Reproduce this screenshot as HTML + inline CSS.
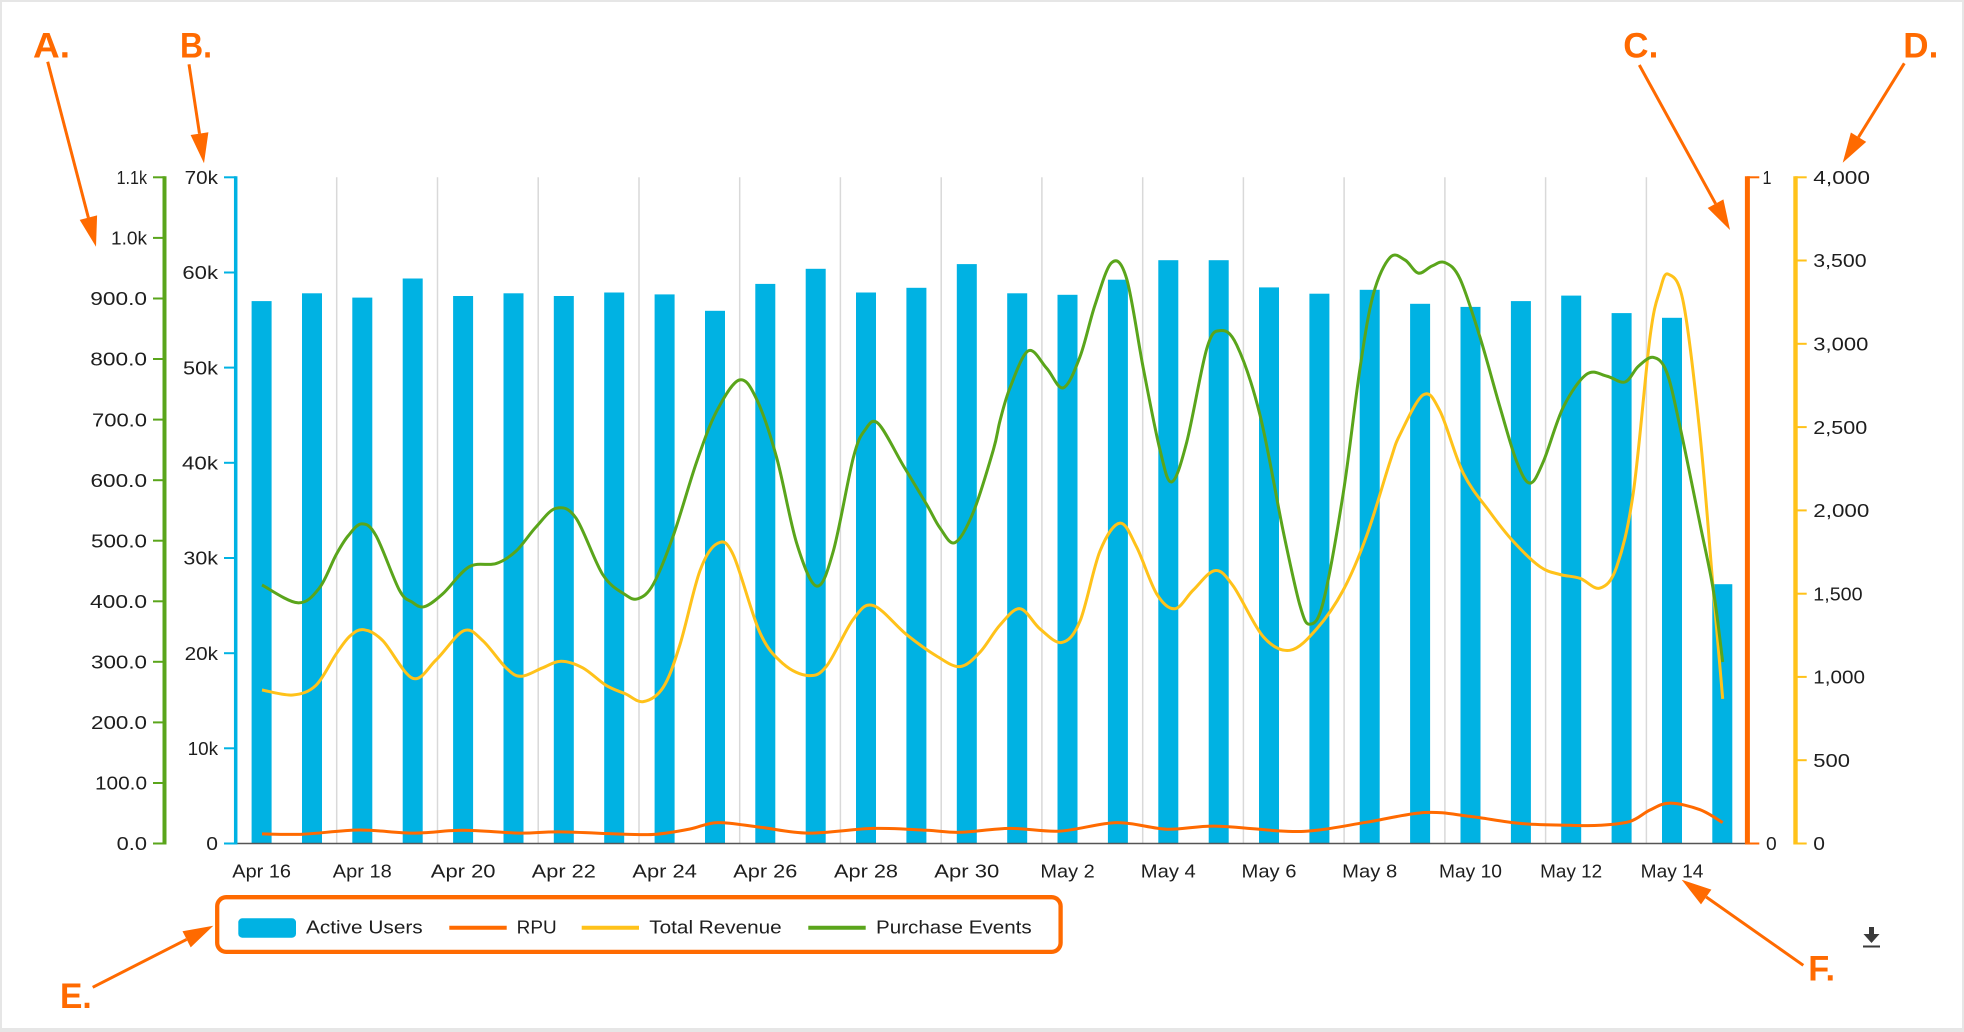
<!DOCTYPE html>
<html>
<head>
<meta charset="utf-8">
<style>
  html,body{margin:0;padding:0;background:#fff;}
  svg{display:block;}
  .t{font-family:"Liberation Sans",sans-serif;font-size:18.5px;fill:#1e1e1e;}
  .ann{font-family:"Liberation Sans",sans-serif;font-size:35px;font-weight:bold;fill:#ff6a00;}
</style>
</head>
<body>
<svg id="chart" width="1964" height="1032" viewBox="0 0 1964 1032" xmlns="http://www.w3.org/2000/svg">
  <!-- frame -->
  <rect x="0" y="0" width="1964" height="1032" fill="#e6e6e6"/>
  <rect x="2" y="2" width="1960" height="1026" fill="#ffffff"/>

  <!-- gridlines -->
  <g stroke="#d9d9d9" stroke-width="1.5">
    <line x1="336.7" y1="177.3" x2="336.7" y2="843.5"/>
    <line x1="437.5" y1="177.3" x2="437.5" y2="843.5"/>
    <line x1="538.2" y1="177.3" x2="538.2" y2="843.5"/>
    <line x1="639.0" y1="177.3" x2="639.0" y2="843.5"/>
    <line x1="739.7" y1="177.3" x2="739.7" y2="843.5"/>
    <line x1="840.4" y1="177.3" x2="840.4" y2="843.5"/>
    <line x1="941.2" y1="177.3" x2="941.2" y2="843.5"/>
    <line x1="1041.9" y1="177.3" x2="1041.9" y2="843.5"/>
    <line x1="1142.7" y1="177.3" x2="1142.7" y2="843.5"/>
    <line x1="1243.4" y1="177.3" x2="1243.4" y2="843.5"/>
    <line x1="1344.1" y1="177.3" x2="1344.1" y2="843.5"/>
    <line x1="1444.9" y1="177.3" x2="1444.9" y2="843.5"/>
    <line x1="1545.6" y1="177.3" x2="1545.6" y2="843.5"/>
    <line x1="1646.4" y1="177.3" x2="1646.4" y2="843.5"/>
  </g>

  <!-- bars -->
  <g fill="#00b2e3">
    <rect x="251.6" y="301.1" width="20" height="542.4"/>
    <rect x="302.0" y="293.3" width="20" height="550.2"/>
    <rect x="352.3" y="297.6" width="20" height="545.9"/>
    <rect x="402.7" y="278.5" width="20" height="565.0"/>
    <rect x="453.1" y="296.0" width="20" height="547.5"/>
    <rect x="503.5" y="293.3" width="20" height="550.2"/>
    <rect x="553.8" y="296.0" width="20" height="547.5"/>
    <rect x="604.2" y="292.5" width="20" height="551.0"/>
    <rect x="654.6" y="294.4" width="20" height="549.1"/>
    <rect x="705.0" y="310.8" width="20" height="532.7"/>
    <rect x="755.3" y="283.9" width="20" height="559.6"/>
    <rect x="805.7" y="268.8" width="20" height="574.7"/>
    <rect x="856.0" y="292.5" width="20" height="551.0"/>
    <rect x="906.4" y="287.8" width="20" height="555.7"/>
    <rect x="956.8" y="264.1" width="20" height="579.4"/>
    <rect x="1007.2" y="293.3" width="20" height="550.2"/>
    <rect x="1057.5" y="294.8" width="20" height="548.7"/>
    <rect x="1107.9" y="279.7" width="20" height="563.8"/>
    <rect x="1158.3" y="260.2" width="20" height="583.3"/>
    <rect x="1208.7" y="260.2" width="20" height="583.3"/>
    <rect x="1259.0" y="287.4" width="20" height="556.1"/>
    <rect x="1309.4" y="293.7" width="20" height="549.8"/>
    <rect x="1359.7" y="289.8" width="20" height="553.7"/>
    <rect x="1410.1" y="303.8" width="20" height="539.7"/>
    <rect x="1460.5" y="306.9" width="20" height="536.6"/>
    <rect x="1510.9" y="301.1" width="20" height="542.4"/>
    <rect x="1561.2" y="295.6" width="20" height="547.9"/>
    <rect x="1611.6" y="313.1" width="20" height="530.4"/>
    <rect x="1662.0" y="317.8" width="20" height="525.7"/>
    <rect x="1712.3" y="584.2" width="20" height="259.3"/>
  </g>

  <!-- x axis -->
  <line x1="236" y1="843.5" x2="1746" y2="843.5" stroke="#555" stroke-width="1.6"/>

  <!-- series lines -->
  <polyline class="smooth" fill="none" stroke="#ff6a00" stroke-width="3" stroke-linejoin="round" stroke-linecap="butt"
    points="262,833.9 302.7,834.2 359.3,830.0 412.7,833.1 462.7,830.3 519.3,833.1 559.3,831.9 625.3,834.2 656.7,834.2 690,829 717.7,822.6 760,827.2 808.3,833.1 873.3,828.4 926.7,830.3 960,832.3 1010,828.4 1060,831.1 1116.7,822.6 1166.7,829.2 1215,826.1 1283.3,831.1 1316.7,830.3 1366.7,822.2 1425,812.5 1470,816.4 1520,823.4 1570,825.3 1600,825.3 1630,821.4 1650,810 1670,803.1 1700,809.7 1722.7,822.6"/>
  <polyline class="smooth" fill="none" stroke="#ffc21a" stroke-width="3" stroke-linejoin="round"
    points="262,690.0 292.7,695.0 316,685.3 336,654.2 350,636 363.7,629.7 382.7,640.6 412.7,678.3 436,660.0 463.7,630.8 482.7,640.6 506,667.8 521,676.3 542.7,667.8 561,661.2 582.7,667.8 606,685.3 625.3,693.8 643.3,701.6 663.3,687.2 680,644.5 700,570.6 717.7,543.3 733.3,555.0 760,632.8 783.3,663.9 808.3,675.6 826.7,665.9 853.3,619.2 873.3,605.6 906.7,634.7 936.7,656.1 960,666.6 980,652.2 1000,625.0 1020,608.7 1040,628.9 1061.7,642.5 1080,621.1 1100,551.1 1120,523.1 1136.7,547.2 1156.7,593.9 1175,608.7 1193.3,590.0 1215,570.6 1233.3,586.1 1263.3,636.7 1290,650.3 1316.7,628.9 1343.3,590.0 1366.7,535.6 1390,461.7 1400,434.5 1423.3,394.8 1440,411.1 1463.3,473.3 1490,512.2 1513.3,541.4 1540,566.7 1560,574.5 1580,578.3 1600,588.1 1616.7,566.7 1633.3,492.8 1650,337.2 1660,290 1668.3,274.2 1683.3,302.2 1700,434.5 1713.3,590.0 1722.7,698.9"/>
  <polyline class="smooth" fill="none" stroke="#5aa51b" stroke-width="3" stroke-linejoin="round"
    points="262,585.0 297.7,602.8 319.3,588.1 336,555.0 348,536 361.7,523.9 376,535.6 399.3,590.0 412,602 424.3,606.7 442.7,593.9 469.3,566.7 496,563.6 516,551.1 536,527 556,508.3 576,518.1 602.7,574.5 625.3,594.7 638.3,598.6 653.3,584.2 673.3,535.6 696.7,461.7 716.7,411.1 739.3,380.0 756.7,399.4 776.7,457.8 796.7,543.3 816.7,586.1 833.3,551.1 853.3,457.8 865,430 878.3,423.6 903.3,465.6 926.7,504.5 940,528 955,542.6 973.3,512.2 993.3,450.0 1000,420.8 1010,387.8 1028.3,350.8 1046.7,368.3 1063.3,387.8 1080,356.7 1095,305 1111.7,262.6 1126.7,278.9 1143.3,368.3 1160,450.0 1171.7,481.9 1186.7,442.2 1206.7,348.9 1220,330.6 1236.7,345.0 1260,415.0 1283.3,531.7 1300,605.6 1310,624.2 1323.3,601.7 1343.3,492.8 1360,368.3 1373.3,294.4 1390,257.5 1405,260 1418.3,273.1 1432,266 1445,262.6 1460,278.9 1480,337.2 1500,407.2 1516.7,461.7 1530,483.1 1543.3,461.7 1563.3,407.2 1586.7,374.2 1606.7,376.1 1625,382.0 1638.3,366.4 1653.3,357.4 1666.7,372.2 1680,426.7 1700,523.9 1713.3,590.0 1722.7,662.0"/>

  <!-- green axis (left-most) -->
  <line x1="164.5" y1="176.3" x2="164.5" y2="844.5" stroke="#5aa51b" stroke-width="4"/>
  <g stroke="#5aa51b" stroke-width="2">
    <line x1="153" y1="177.3" x2="165" y2="177.3"/>
    <line x1="153" y1="237.9" x2="165" y2="237.9"/>
    <line x1="153" y1="298.5" x2="165" y2="298.5"/>
    <line x1="153" y1="359.0" x2="165" y2="359.0"/>
    <line x1="153" y1="419.6" x2="165" y2="419.6"/>
    <line x1="153" y1="480.2" x2="165" y2="480.2"/>
    <line x1="153" y1="540.7" x2="165" y2="540.7"/>
    <line x1="153" y1="601.3" x2="165" y2="601.3"/>
    <line x1="153" y1="661.8" x2="165" y2="661.8"/>
    <line x1="153" y1="722.4" x2="165" y2="722.4"/>
    <line x1="153" y1="783.0" x2="165" y2="783.0"/>
    <line x1="153" y1="843.5" x2="165" y2="843.5"/>
  </g>
  <g class="t">
    <text x="116.6" y="184.0" textLength="30.4" lengthAdjust="spacingAndGlyphs">1.1k</text>
    <text x="111.0" y="244.6" textLength="36" lengthAdjust="spacingAndGlyphs">1.0k</text>
    <text x="90.3" y="305.2" textLength="56.7" lengthAdjust="spacingAndGlyphs">900.0</text>
    <text x="90.3" y="365.7" textLength="56.7" lengthAdjust="spacingAndGlyphs">800.0</text>
    <text x="92.0" y="426.3" textLength="55" lengthAdjust="spacingAndGlyphs">700.0</text>
    <text x="90.5" y="486.9" textLength="56.5" lengthAdjust="spacingAndGlyphs">600.0</text>
    <text x="91.0" y="547.4" textLength="56" lengthAdjust="spacingAndGlyphs">500.0</text>
    <text x="90.0" y="608.0" textLength="57" lengthAdjust="spacingAndGlyphs">400.0</text>
    <text x="91.0" y="668.5" textLength="56" lengthAdjust="spacingAndGlyphs">300.0</text>
    <text x="91.0" y="729.1" textLength="56" lengthAdjust="spacingAndGlyphs">200.0</text>
    <text x="95.0" y="789.7" textLength="52" lengthAdjust="spacingAndGlyphs">100.0</text>
    <text x="116.7" y="850.2" textLength="30.3" lengthAdjust="spacingAndGlyphs">0.0</text>
  </g>

  <!-- blue axis -->
  <line x1="235.7" y1="176.3" x2="235.7" y2="844.5" stroke="#00b2e3" stroke-width="3.5"/>
  <g stroke="#00b2e3" stroke-width="2">
    <line x1="224" y1="177.3" x2="236" y2="177.3"/>
    <line x1="224" y1="272.5" x2="236" y2="272.5"/>
    <line x1="224" y1="367.6" x2="236" y2="367.6"/>
    <line x1="224" y1="462.8" x2="236" y2="462.8"/>
    <line x1="224" y1="558.0" x2="236" y2="558.0"/>
    <line x1="224" y1="653.2" x2="236" y2="653.2"/>
    <line x1="224" y1="748.3" x2="236" y2="748.3"/>
    <line x1="224" y1="843.5" x2="236" y2="843.5"/>
  </g>
  <g class="t">
    <text x="184.7" y="184.0" textLength="33.3" lengthAdjust="spacingAndGlyphs">70k</text>
    <text x="182.4" y="279.2" textLength="35.6" lengthAdjust="spacingAndGlyphs">60k</text>
    <text x="183.0" y="374.3" textLength="35" lengthAdjust="spacingAndGlyphs">50k</text>
    <text x="182.0" y="469.5" textLength="36" lengthAdjust="spacingAndGlyphs">40k</text>
    <text x="183.4" y="564.7" textLength="34.6" lengthAdjust="spacingAndGlyphs">30k</text>
    <text x="184.6" y="659.9" textLength="33.4" lengthAdjust="spacingAndGlyphs">20k</text>
    <text x="187.6" y="755.0" textLength="30.4" lengthAdjust="spacingAndGlyphs">10k</text>
    <text x="206.3" y="850.2" textLength="11.7" lengthAdjust="spacingAndGlyphs">0</text>
  </g>

  <!-- orange axis (RPU) -->
  <line x1="1747.4" y1="176.3" x2="1747.4" y2="844.5" stroke="#ff6a00" stroke-width="5"/>
  <g stroke="#ff6a00" stroke-width="2">
    <line x1="1747" y1="177.3" x2="1759.3" y2="177.3"/>
    <line x1="1747" y1="843.5" x2="1759.3" y2="843.5"/>
  </g>
  <g class="t">
    <text x="1762.5" y="184.0" textLength="9" lengthAdjust="spacingAndGlyphs">1</text>
    <text x="1766" y="850.2" textLength="10.7" lengthAdjust="spacingAndGlyphs">0</text>
  </g>

  <!-- yellow axis (Total Revenue) -->
  <line x1="1795.5" y1="176.3" x2="1795.5" y2="844.5" stroke="#ffc21a" stroke-width="4.4"/>
  <g stroke="#ffc21a" stroke-width="2">
    <line x1="1795" y1="177.3" x2="1806.7" y2="177.3"/>
    <line x1="1795" y1="260.5" x2="1806.7" y2="260.5"/>
    <line x1="1795" y1="343.8" x2="1806.7" y2="343.8"/>
    <line x1="1795" y1="427.1" x2="1806.7" y2="427.1"/>
    <line x1="1795" y1="510.4" x2="1806.7" y2="510.4"/>
    <line x1="1795" y1="593.7" x2="1806.7" y2="593.7"/>
    <line x1="1795" y1="676.9" x2="1806.7" y2="676.9"/>
    <line x1="1795" y1="760.2" x2="1806.7" y2="760.2"/>
    <line x1="1795" y1="843.5" x2="1806.7" y2="843.5"/>
  </g>
  <g class="t">
    <text x="1813.3" y="184.0" textLength="56.7" lengthAdjust="spacingAndGlyphs">4,000</text>
    <text x="1813.3" y="267.2" textLength="53.3" lengthAdjust="spacingAndGlyphs">3,500</text>
    <text x="1813.3" y="350.5" textLength="55" lengthAdjust="spacingAndGlyphs">3,000</text>
    <text x="1813.3" y="433.8" textLength="54" lengthAdjust="spacingAndGlyphs">2,500</text>
    <text x="1813.3" y="517.1" textLength="56" lengthAdjust="spacingAndGlyphs">2,000</text>
    <text x="1813.3" y="600.4" textLength="49.3" lengthAdjust="spacingAndGlyphs">1,500</text>
    <text x="1813.3" y="683.6" textLength="51.7" lengthAdjust="spacingAndGlyphs">1,000</text>
    <text x="1813.3" y="766.9" textLength="36.7" lengthAdjust="spacingAndGlyphs">500</text>
    <text x="1813.3" y="850.2" textLength="11.7" lengthAdjust="spacingAndGlyphs">0</text>
  </g>

  <!-- x labels -->
  <g class="t">
    <text x="232.3" y="877.3" textLength="58.7" lengthAdjust="spacingAndGlyphs">Apr 16</text>
    <text x="332.8" y="877.3" textLength="59" lengthAdjust="spacingAndGlyphs">Apr 18</text>
    <text x="430.8" y="877.3" textLength="64.7" lengthAdjust="spacingAndGlyphs">Apr 20</text>
    <text x="531.8" y="877.3" textLength="64" lengthAdjust="spacingAndGlyphs">Apr 22</text>
    <text x="632.4" y="877.3" textLength="64.5" lengthAdjust="spacingAndGlyphs">Apr 24</text>
    <text x="733.3" y="877.3" textLength="64" lengthAdjust="spacingAndGlyphs">Apr 26</text>
    <text x="834.0" y="877.3" textLength="64" lengthAdjust="spacingAndGlyphs">Apr 28</text>
    <text x="934.3" y="877.3" textLength="65" lengthAdjust="spacingAndGlyphs">Apr 30</text>
    <text x="1040.4" y="877.3" textLength="54.3" lengthAdjust="spacingAndGlyphs">May 2</text>
    <text x="1140.8" y="877.3" textLength="55" lengthAdjust="spacingAndGlyphs">May 4</text>
    <text x="1241.5" y="877.3" textLength="55" lengthAdjust="spacingAndGlyphs">May 6</text>
    <text x="1342.2" y="877.3" textLength="55" lengthAdjust="spacingAndGlyphs">May 8</text>
    <text x="1439.0" y="877.3" textLength="63" lengthAdjust="spacingAndGlyphs">May 10</text>
    <text x="1540.2" y="877.3" textLength="62" lengthAdjust="spacingAndGlyphs">May 12</text>
    <text x="1640.7" y="877.3" textLength="62.7" lengthAdjust="spacingAndGlyphs">May 14</text>
  </g>

  <!-- legend -->
  <rect x="217.2" y="897.2" width="843.4" height="54.7" rx="9" ry="9" fill="none" stroke="#ff6a00" stroke-width="4.3"/>
  <rect x="238.3" y="918.3" width="57.7" height="19.4" rx="4" ry="4" fill="#00b2e3"/>
  <g class="t">
    <text x="306" y="933.3" textLength="116.7" lengthAdjust="spacingAndGlyphs">Active Users</text>
    <text x="516.7" y="933.3" textLength="40" lengthAdjust="spacingAndGlyphs">RPU</text>
    <text x="649.3" y="933.3" textLength="132.4" lengthAdjust="spacingAndGlyphs">Total Revenue</text>
    <text x="876" y="933.3" textLength="155.7" lengthAdjust="spacingAndGlyphs">Purchase Events</text>
  </g>
  <line x1="449.3" y1="927.7" x2="506.7" y2="927.7" stroke="#ff6a00" stroke-width="4"/>
  <line x1="581.7" y1="927.7" x2="639" y2="927.7" stroke="#ffc21a" stroke-width="4"/>
  <line x1="808.3" y1="927.7" x2="865.7" y2="927.7" stroke="#5aa51b" stroke-width="4"/>

  <!-- download icon -->
  <g fill="#3a3a3a">
    <rect x="1869" y="927" width="5" height="8"/>
    <polygon points="1863.5,934 1879.5,934 1871.5,943"/>
    <rect x="1863" y="945.5" width="17" height="2"/>
  </g>

  <!-- annotations -->
  <g class="ann">
    <text x="33" y="57.3" textLength="37" lengthAdjust="spacingAndGlyphs">A.</text>
    <text x="180" y="57.3" textLength="32" lengthAdjust="spacingAndGlyphs">B.</text>
    <text x="1623.3" y="57.3" textLength="35" lengthAdjust="spacingAndGlyphs">C.</text>
    <text x="1903.3" y="57.3" textLength="35" lengthAdjust="spacingAndGlyphs">D.</text>
    <text x="60" y="1008" textLength="31.7" lengthAdjust="spacingAndGlyphs">E.</text>
    <text x="1808.3" y="980.5" textLength="26.7" lengthAdjust="spacingAndGlyphs">F.</text>
  </g>
  <g stroke="#ff6a00" stroke-width="3" fill="none">
    <line x1="47.7" y1="61.7" x2="88.4" y2="217.7"/>
    <line x1="189" y1="64.3" x2="199.5" y2="133.6"/>
    <line x1="1639.3" y1="65" x2="1715.6" y2="203.7"/>
    <line x1="1904.3" y1="63.3" x2="1858.5" y2="137.2"/>
    <line x1="92.7" y1="987.3" x2="186.6" y2="939.4"/>
    <line x1="1803.3" y1="965.3" x2="1706.2" y2="897.0"/>
  </g>
  <g fill="#ff6a00">
    <polygon points="96,246.7 79.7,219.9 97.1,215.4"/>
    <polygon points="204,163.3 190.6,135.0 208.4,132.3"/>
    <polygon points="1730,230 1707.7,208.0 1723.4,199.4"/>
    <polygon points="1842.7,162.7 1850.9,132.5 1866.2,141.9"/>
    <polygon points="213.3,925.7 190.7,947.4 182.5,931.3"/>
    <polygon points="1681.7,879.7 1711.4,889.6 1701.0,904.4"/>
  </g>
</svg>
<script>
(function(){
  var NS = "http://www.w3.org/2000/svg";
  var lines = document.querySelectorAll("polyline.smooth");
  for (var k = 0; k < lines.length; k++) {
    var pl = lines[k];
    var raw = pl.getAttribute("points").trim().split(/\s+/);
    var p = [];
    for (var i = 0; i < raw.length; i++) {
      var xy = raw[i].split(",");
      p.push([parseFloat(xy[0]), parseFloat(xy[1])]);
    }
    if (p.length < 3) continue;
    var d = "M" + p[0][0] + "," + p[0][1];
    for (var i = 0; i < p.length - 1; i++) {
      var p0 = p[i > 0 ? i - 1 : i], p1 = p[i], p2 = p[i + 1], p3 = p[i + 2 < p.length ? i + 2 : i + 1];
      var c1x = p1[0] + (p2[0] - p0[0]) / 6, c1y = p1[1] + (p2[1] - p0[1]) / 6;
      var c2x = p2[0] - (p3[0] - p1[0]) / 6, c2y = p2[1] - (p3[1] - p1[1]) / 6;
      d += " C" + c1x.toFixed(2) + "," + c1y.toFixed(2) + " " + c2x.toFixed(2) + "," + c2y.toFixed(2) + " " + p2[0] + "," + p2[1];
    }
    var path = document.createElementNS(NS, "path");
    path.setAttribute("d", d);
    path.setAttribute("fill", "none");
    path.setAttribute("stroke", pl.getAttribute("stroke"));
    path.setAttribute("stroke-width", pl.getAttribute("stroke-width"));
    path.setAttribute("stroke-linejoin", "round");
    pl.parentNode.replaceChild(path, pl);
  }
})();
</script>
</body>
</html>
